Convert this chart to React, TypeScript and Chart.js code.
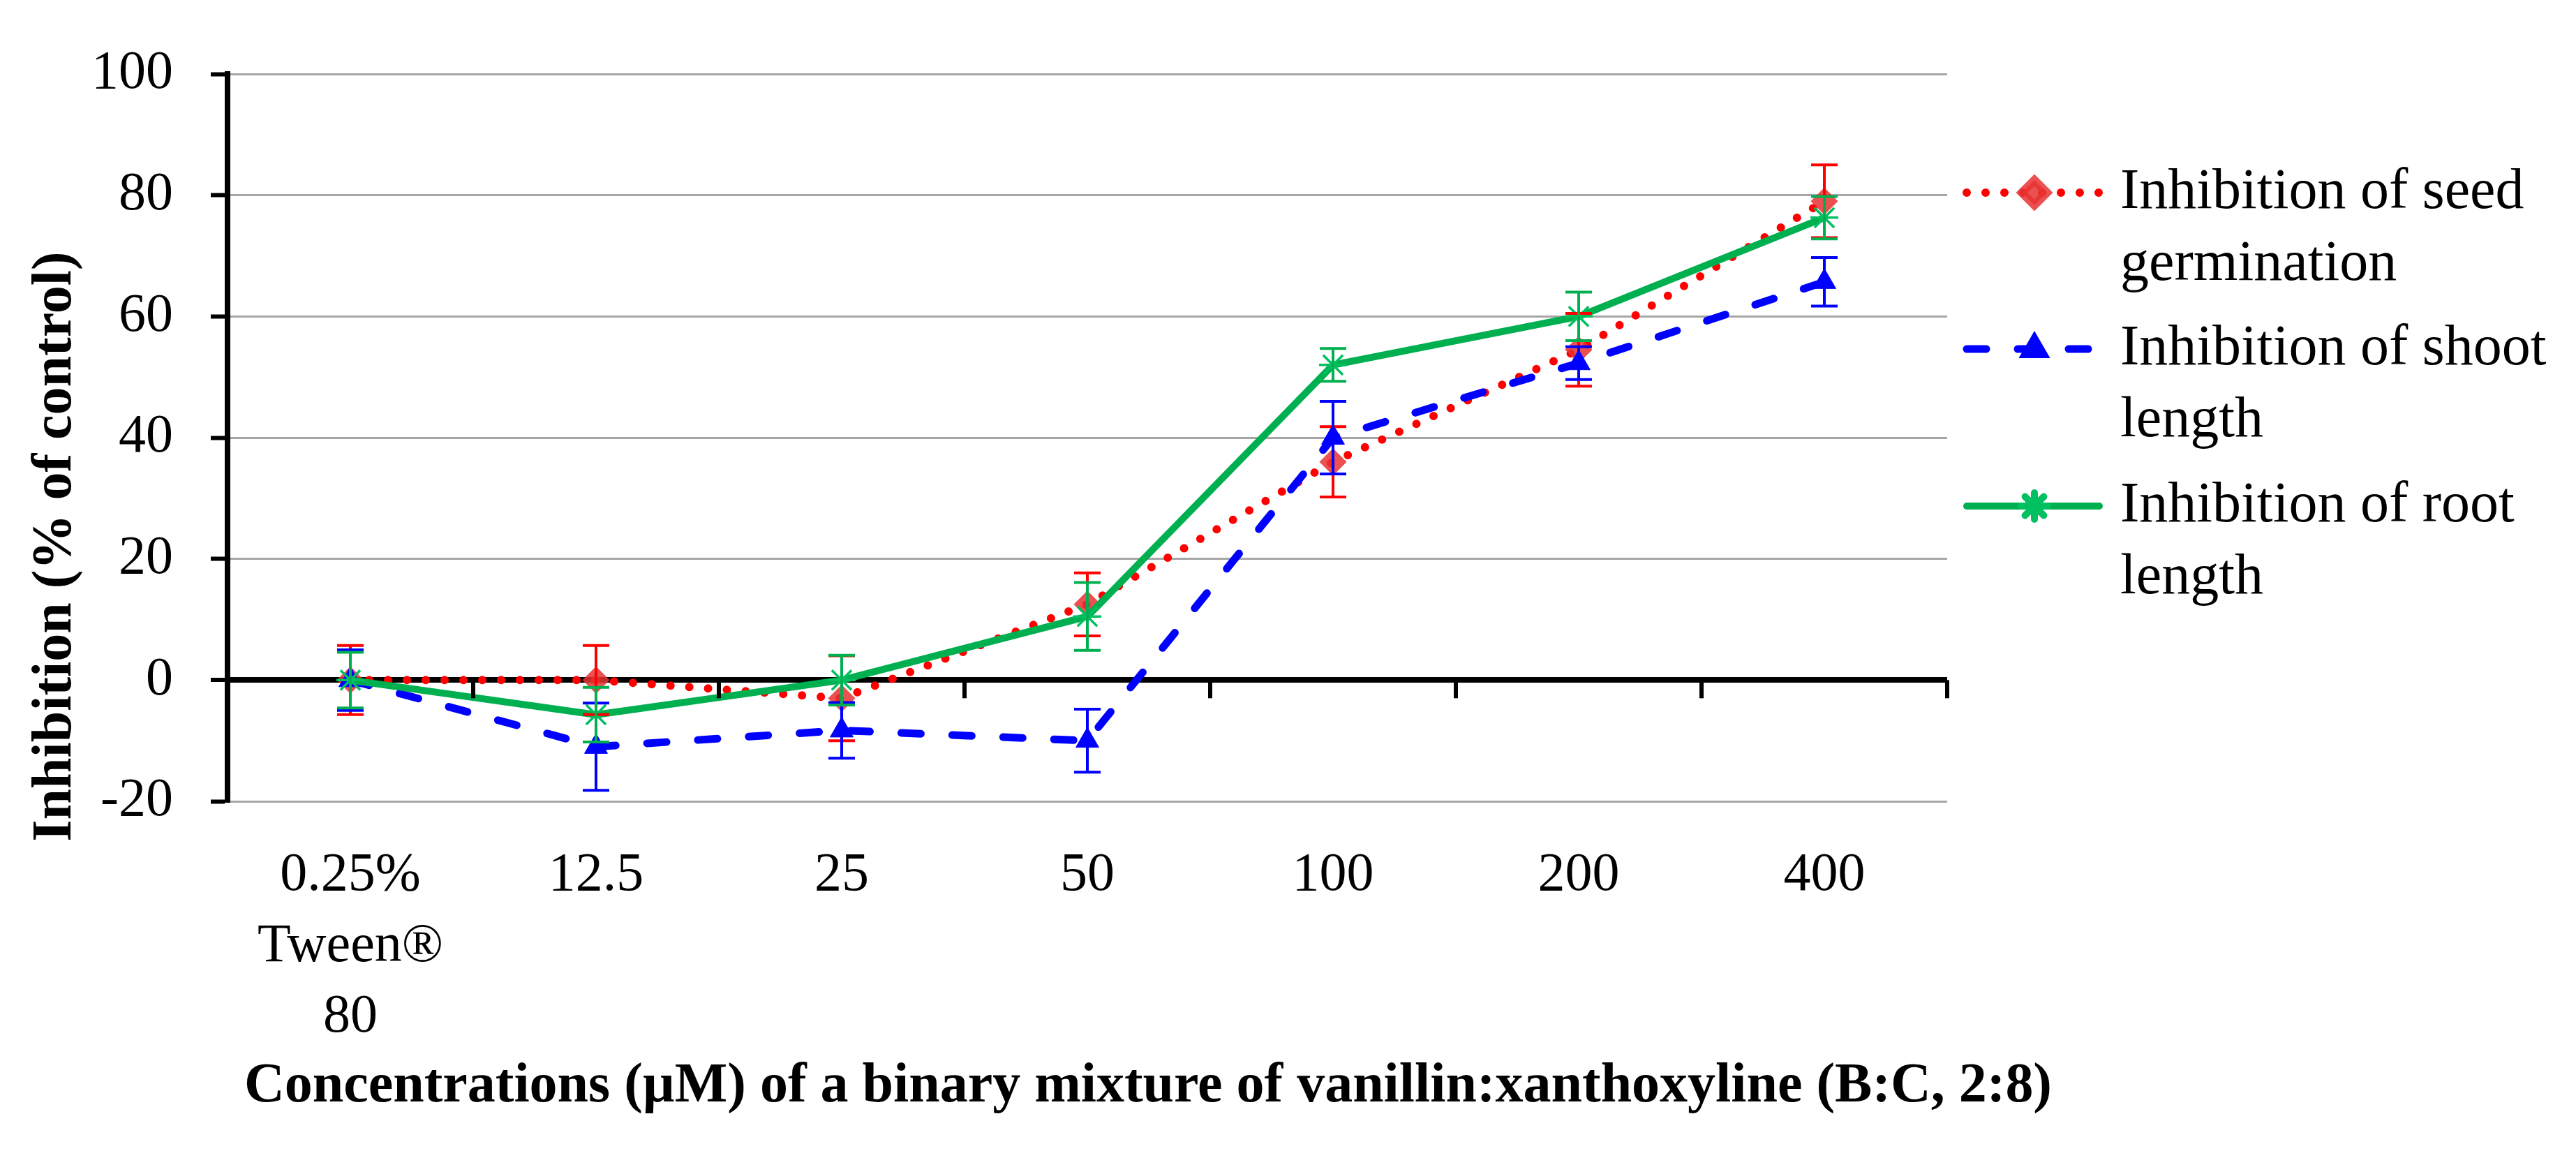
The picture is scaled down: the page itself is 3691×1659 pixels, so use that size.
import { useEffect, useRef } from 'react';
import { Chart, registerables } from 'chart.js';
import { drawPoint } from 'chart.js/helpers';

Chart.register(...registerables);

// categories (µM), first one is the solvent control
const categories = [['0.25%', 'Tween®', '80'], '12.5', '25', '50', '100', '200', '400'];

const seedGermination = [0, 0, -3, 12.5, 36, 54.5, 79];
const seedErr = [5.7, 5.7, 7, 5.2, 5.8, 6, 6];
const shootLength = [0, -11, -8.3, -10, 40, 52.3, 65.7];
const shootErr = [5, 7.2, 4.6, 5.2, 6, 2.7, 4];
const rootLength = [0, -5.7, 0, 10.5, 52, 60, 76.3];
const rootErr = [4.6, 4.5, 4.1, 5.6, 2.7, 4, 3.5];

const yMin = -20;
const yMax = 100;
const yStep = 20;

const legendNames = [
    ['Inhibition of seed', 'germination'],
    ['Inhibition of shoot', 'length'],
    ['Inhibition of root', 'length'],
];
const yTitle = 'Inhibition (% of control)';
const xTitle = 'Concentrations (µM) of a binary mixture of vanillin:xanthoxyline (B:C, 2:8)';

const FONT = '"Liberation Serif", "Times New Roman", serif';

const errorBars = {
    id: 'errorBars',
    afterDatasetsDraw(chart: any) {
        const { ctx } = chart;
        const y = chart.scales.y;
        chart.data.datasets.forEach((ds: any, i: number) => {
            const meta = chart.getDatasetMeta(i);
            ctx.save();
            ctx.strokeStyle = ds.errorColor;
            ctx.lineWidth = 4;
            ctx.setLineDash([]);
            meta.data.forEach((pt: any, j: number) => {
                const v = ds.data[j];
                const e = ds.errors[j];
                const top = y.getPixelForValue(v + e);
                const bot = y.getPixelForValue(v - e);
                ctx.beginPath();
                ctx.moveTo(pt.x, top);
                ctx.lineTo(pt.x, bot);
                ctx.moveTo(pt.x - 19, top);
                ctx.lineTo(pt.x + 19, top);
                ctx.moveTo(pt.x - 19, bot);
                ctx.lineTo(pt.x + 19, bot);
                ctx.stroke();
            });
            ctx.restore();
        });
    },
};

// tick marks hanging under the zero line, between categories
const zeroTicks = {
    id: 'zeroTicks',
    afterDraw(chart: any) {
        const { ctx } = chart;
        const x = chart.scales.x;
        const y0 = chart.scales.y.getPixelForValue(0);
        const half = (x.getPixelForValue(1) - x.getPixelForValue(0)) / 2;
        ctx.save();
        ctx.strokeStyle = '#000';
        ctx.lineWidth = 6;
        for (let i = 0; i < categories.length; i++) {
            const px = x.getPixelForValue(i) + half;
            ctx.beginPath();
            ctx.moveTo(px, y0);
            ctx.lineTo(px, y0 + 26);
            ctx.stroke();
        }
        ctx.restore();
    },
};

const titlesAndLegend = {
    id: 'titlesAndLegend',
    afterDraw(chart: any) {
        const { ctx } = chart;
        ctx.save();
        ctx.fillStyle = '#000';
        ctx.textAlign = 'center';
        ctx.textBaseline = 'middle';
        ctx.font = `bold 80px ${FONT}`;
        ctx.save();
        ctx.translate(80, 783);
        ctx.rotate(-Math.PI / 2);
        ctx.fillText(yTitle, 0, 0, 870);
        ctx.restore();
        ctx.fillText(xTitle, 1645, 1557, 2590);

        // legend
        const rows = [298, 522, 747];
        chart.data.datasets.forEach((ds: any, i: number) => {
            const base = rows[i];
            const ly = base - 22;
            ctx.save();
            ctx.strokeStyle = ds.borderColor;
            ctx.lineWidth = ds.borderWidth;
            ctx.lineCap = ds.borderCapStyle || 'butt';
            ctx.setLineDash(ds.borderDash || []);
            ctx.beginPath();
            ctx.moveTo(2818, ly);
            ctx.lineTo(3008, ly);
            ctx.stroke();
            ctx.setLineDash([]);
            ctx.fillStyle = ds.pointBackgroundColor;
            ctx.strokeStyle = ds.pointBorderColor;
            drawPoint(ctx, {
                pointStyle: ds.pointStyle,
                radius: ds.legendRadius,
                borderWidth: ds.pointBorderWidth,
                rotation: 0,
            } as any, 2915, ly);
            ctx.restore();

            ctx.font = `82px ${FONT}`;
            ctx.textAlign = 'left';
            ctx.textBaseline = 'alphabetic';
            ctx.fillStyle = '#000';
            legendNames[i].forEach((line, k) => {
                ctx.fillText(line, 3038, base + k * 103);
            });
        });
        ctx.restore();
    },
};

const App = () => {
    const chartRef = useRef<HTMLCanvasElement>(null);

    useEffect(() => {
        document.body.style.margin = '0';
        let myChart: any = null;

        if (chartRef.current) {
            myChart = new Chart(chartRef.current, {
                type: 'line',
                data: {
                    labels: categories,
                    datasets: [
                        {
                            label: legendNames[0].join(' '),
                            data: seedGermination,
                            errors: seedErr,
                            errorColor: '#ff0000',
                            borderColor: '#ff0000',
                            borderWidth: 12,
                            borderDash: [0, 27],
                            borderCapStyle: 'round',
                            pointStyle: 'rectRot',
                            pointRadius: 19,
                            legendRadius: 18,
                            pointBackgroundColor: 'rgba(232, 50, 50, 0.85)',
                            pointBorderColor: 'rgba(232, 50, 50, 0.85)',
                            pointBorderWidth: 1,
                            order: 3,
                        },
                        {
                            label: legendNames[1].join(' '),
                            data: shootLength,
                            errors: shootErr,
                            errorColor: '#0000ff',
                            borderColor: '#0000ff',
                            borderWidth: 11,
                            borderDash: [28, 45],
                            borderCapStyle: 'round',
                            pointStyle: 'triangle',
                            pointRadius: 19,
                            legendRadius: 15,
                            pointBackgroundColor: '#0000ff',
                            pointBorderColor: '#0000ff',
                            pointBorderWidth: 1,
                            order: 2,
                        },
                        {
                            label: legendNames[2].join(' '),
                            data: rootLength,
                            errors: rootErr,
                            errorColor: '#00b050',
                            borderColor: '#00b050',
                            borderWidth: 10,
                            borderCapStyle: 'round',
                            pointStyle: 'star',
                            pointRadius: 20,
                            legendRadius: 19,
                            pointBackgroundColor: '#00c864',
                            pointBorderColor: '#00c060',
                            pointBorderWidth: 3.5,
                            order: 1,
                        },
                    ] as any,
                },
                options: {
                    animation: false,
                    responsive: false,
                    devicePixelRatio: 1,
                    layout: { padding: { left: 0, top: 106, right: 901, bottom: 0 } },
                    plugins: {
                        legend: { display: false },
                        tooltip: { enabled: false },
                    },
                    elements: {
                        line: { tension: 0, fill: false },
                    },
                    scales: {
                        x: {
                            type: 'category',
                            offset: true,
                            grid: { display: false, drawTicks: false },
                            border: { display: false },
                            ticks: {
                                color: '#000',
                                padding: 56,
                                maxRotation: 0,
                                autoSkip: false,
                                font: { family: FONT, size: 78, lineHeight: 1.3 },
                            },
                            afterFit: (s: any) => { s.height = 1659 - 1148; },
                        },
                        y: {
                            min: yMin,
                            max: yMax,
                            ticks: {
                                stepSize: yStep,
                                color: '#000',
                                padding: 54,
                                font: { family: FONT, size: 78 },
                                callback: (v: any) => String(v),
                            },
                            grid: {
                                color: (c: any) => (c.tick && c.tick.value === 0 ? '#000' : '#a6a6a6'),
                                lineWidth: (c: any) => (c.tick && c.tick.value === 0 ? 8 : 3),
                                tickColor: '#000',
                                tickLength: 24,
                                tickWidth: 6,
                            },
                            border: { display: true, color: '#000', width: 8 },
                            afterFit: (s: any) => { s.width = 326; },
                        },
                    },
                } as any,
                plugins: [errorBars, zeroTicks, titlesAndLegend],
            });
        }

        return () => {
            if (myChart) {
                myChart.destroy();
            }
        };
    }, []);

    return (
        <div style={{ width: '3691px', height: '1659px' }}>
            <canvas ref={chartRef} width={3691} height={1659} style={{ width: '3691px', height: '1659px' }}></canvas>
        </div>
    );
};

export default App;
